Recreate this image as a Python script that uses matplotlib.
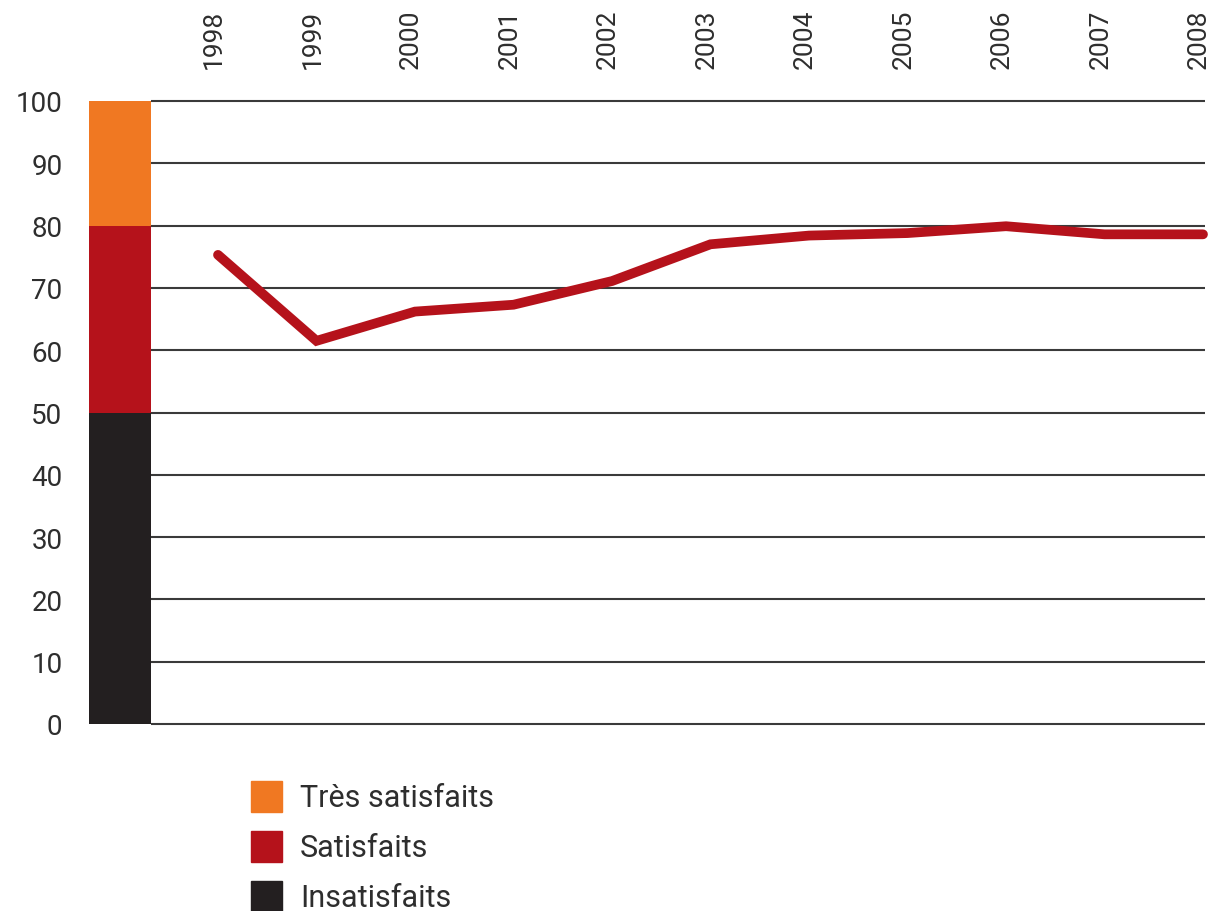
import matplotlib
matplotlib.use("Agg")
import matplotlib.pyplot as plt
import matplotlib.transforms as mtransforms
from matplotlib.patches import Rectangle

# Data
years = [1998, 1999, 2000, 2001, 2002, 2003, 2004, 2005, 2006, 2007, 2008]
satisfaction = [75.3, 61.5, 66.2, 67.3, 71.1, 77.0, 78.4, 78.8, 79.9, 78.6, 78.6]

# scale bar on the left (bottom, top) and legend
band_labels = ["Insatisfaits", "Satisfaits", "Très satisfaits"]
band_bottoms = [0, 50, 80]
band_tops = [50, 80, 100]
band_colors = ["#231f20", "#b5121b", "#f07822"]

yticks = [0, 10, 20, 30, 40, 50, 60, 70, 80, 90, 100]

text_color = "#2e2e2e"
plt.rcParams["font.family"] = ["Roboto", "DejaVu Sans"]

fig = plt.figure(figsize=(12.11, 9.12), dpi=100)
W, H = 1211, 912
# axes from pixel x 89..1205, y 102..725
ax = fig.add_axes([89 / W, 1 - 725 / H, (1205 - 89) / W, (725 - 102) / H])

step = 98.5  # px per year
x_left = years[0] - (218 - 89) / step
x_bar_right = years[0] - (218 - 151) / step
x_right = years[0] + (1205 - 218) / step
ax.set_xlim(x_left, x_right)
ax.set_ylim(0, 100)

# horizontal grid lines
for y in yticks:
    ax.plot([x_bar_right, x_right], [y, y], color="#3a3a3a", lw=1.5,
            zorder=1, clip_on=False, solid_capstyle="butt")

# stacked scale bar
for b, t, c in zip(band_bottoms, band_tops, band_colors):
    ax.bar((x_left + x_bar_right) / 2, t - b, bottom=b,
           width=x_bar_right - x_left, color=c, zorder=2, linewidth=0)

# main line
ax.plot(years, satisfaction, color="#b5121b", lw=7,
        solid_capstyle="round", solid_joinstyle="miter", zorder=3, clip_on=False)

for s in ax.spines.values():
    s.set_visible(False)

ax.set_yticks(yticks)
ax.set_yticklabels([str(v) for v in yticks], fontsize=20, color=text_color)
ax.tick_params(axis="y", length=0, pad=19)

ax.xaxis.tick_top()
ax.set_xticks(years)
ax.set_xticklabels([str(y) for y in years], rotation=90, fontsize=19,
                   color=text_color)
ax.tick_params(axis="x", length=0, pad=24)
shift = mtransforms.ScaledTranslation(-4 / 100, 0, fig.dpi_scale_trans)
for lab in ax.get_xticklabels():
    lab.set_transform(lab.get_transform() + shift)

# legend, drawn by hand to match the layout
for i, (lab, col) in enumerate(zip(band_labels[::-1], band_colors[::-1])):
    top = 782 + i * 50
    fig.patches.append(Rectangle((251 / W, 1 - (top + 31) / H), 31 / W, 31 / H,
                                 transform=fig.transFigure, color=col))
    fig.text(300 / W, 1 - (top + 17) / H, lab, fontsize=22, color=text_color,
             va="center", ha="left")

fig.savefig("out.png", dpi=100)
